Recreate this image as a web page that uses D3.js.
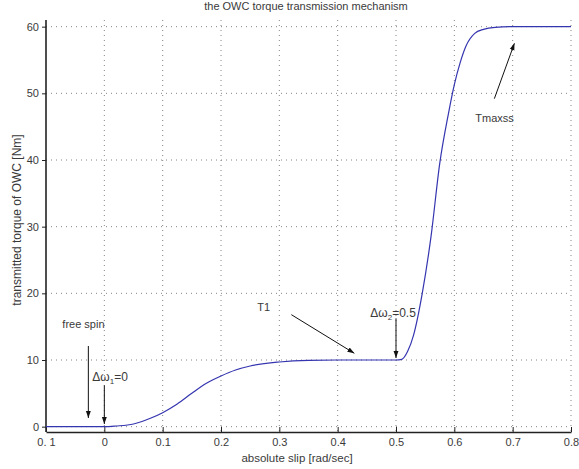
<!DOCTYPE html>
<html>
<head>
<meta charset="utf-8">
<script src="https://cdn.jsdelivr.net/npm/d3@7"></script>
<style>
  body { margin: 0; background: #fff; }
  text { font-family: "Liberation Sans", Arial, sans-serif; fill: #3a3a3a; }
</style>
</head>
<body>
<div id="chart"></div>
<script>
// curve
const slip = [-0.1, 0, 0.02, 0.05, 0.08, 0.1, 0.125, 0.15, 0.175, 0.2, 0.225, 0.25, 0.3, 0.35, 0.4, 0.45, 0.5, 0.51,
              0.52, 0.53, 0.545, 0.56, 0.575, 0.59, 0.6, 0.61, 0.62, 0.635, 0.65, 0.67, 0.7, 0.8];
const torque = [0, 0, 0.1, 0.4, 1.3, 2.1, 3.4, 5.0, 6.5, 7.6, 8.5, 9.1, 9.7, 9.95, 10, 10, 10, 10.1,
                11.3, 13.7, 20, 28.5, 39.5, 47, 51.3, 54.6, 57.1, 59, 59.6, 59.9, 60, 60];

const xTicks = [-0.1, 0, 0.1, 0.2, 0.3, 0.4, 0.5, 0.6, 0.7, 0.8];
const xTickLabels = ["0. 1", "0", "0.1", "0.2", "0.3", "0.4", "0.5", "0.6", "0.7", "0.8"];
const yTicks = [0, 10, 20, 30, 40, 50, 60];

// annotations in data units
const arrows = [
    [-0.0274, 12.1, -0.0274, 1.3],
    [0, 6.2, 0, 0.4],
    [0.3206, 16.8, 0.4286, 11.0],
    [0.5, 16.25, 0.5, 10.3],
    [0.6686, 49.2, 0.703, 57.5]
];

const width = 579;
const height = 469;
const padLeft = 46, padRight = 571, padTop = 20, padBottom = 432;

const x = d3.scaleLinear().domain([-0.1, 0.8]).range([padLeft, padRight]);
const y = d3.scaleLinear().domain([-0.8, 61]).range([padBottom, padTop]);

const svg = d3.select("#chart")
              .append("svg")
              .attr("width", width)
              .attr("height", height);

// dotted grid
svg.append("g")
   .selectAll("line")
   .data(xTicks.slice(1))
   .enter()
   .append("line")
   .attr("x1", (d) => x(d)).attr("x2", (d) => x(d))
   .attr("y1", padTop).attr("y2", padBottom)
   .attr("stroke", "#666").attr("stroke-width", 0.8)
   .attr("stroke-dasharray", "1,4");

svg.append("g")
   .selectAll("line")
   .data(yTicks)
   .enter()
   .append("line")
   .attr("x1", padLeft).attr("x2", padRight)
   .attr("y1", (d) => y(d)).attr("y2", (d) => y(d))
   .attr("stroke", "#666").attr("stroke-width", 0.8)
   .attr("stroke-dasharray", "1,4");

const xAxis = d3.axisBottom(x)
                .tickValues(xTicks)
                .tickFormat((d, i) => xTickLabels[i])
                .tickSizeInner(-5)
                .tickSizeOuter(0)
                .tickPadding(6);
const yAxis = d3.axisLeft(y)
                .tickValues(yTicks)
                .tickSizeInner(4)
                .tickSizeOuter(0)
                .tickPadding(3);

const gx = svg.append("g")
   .attr("transform", "translate(0," + padBottom + ")")
   .call(xAxis);
const gy = svg.append("g")
   .attr("transform", "translate(" + padLeft + ",0)")
   .call(yAxis);

[gx, gy].forEach((g) => {
    g.select(".domain").attr("stroke", "#222").attr("stroke-width", 1.6);
    g.selectAll(".tick line").attr("stroke", "#222");
    g.selectAll(".tick text").attr("font-size", 11).attr("fill", "#444")
     .style("font-family", "'Liberation Sans', Arial, sans-serif");
});
gy.select(".domain").attr("d", "M0," + padTop + "V" + padBottom);

// curve
const line = d3.line()
               .x((d, i) => x(slip[i]))
               .y((d) => y(d))
               .curve(d3.curveMonotoneX);

svg.append("path")
   .datum(torque)
   .attr("d", line)
   .attr("fill", "none")
   .attr("stroke", "#3535b0")
   .attr("stroke-width", 1.2);

// arrows
svg.append("defs")
   .append("marker")
   .attr("id", "head")
   .attr("viewBox", "0 0 10 10")
   .attr("refX", 10).attr("refY", 5)
   .attr("markerWidth", 7).attr("markerHeight", 7)
   .attr("markerUnits", "userSpaceOnUse")
   .attr("orient", "auto")
   .append("path")
   .attr("d", "M0,1.5L10,5L0,8.5Z")
   .attr("fill", "#111");

svg.append("g")
   .selectAll("line")
   .data(arrows)
   .enter()
   .append("line")
   .attr("x1", (d) => x(d[0])).attr("y1", (d) => y(d[1]))
   .attr("x2", (d) => x(d[2])).attr("y2", (d) => y(d[3]))
   .attr("stroke", "#111").attr("stroke-width", 1)
   .attr("marker-end", "url(#head)");

// annotation text
svg.append("text").attr("x", x(-0.072)).attr("y", y(14.8))
   .attr("font-size", 11).text("free spin");
svg.append("text").attr("x", x(0.262)).attr("y", y(17.3))
   .attr("font-size", 11).text("T1");
svg.append("text").attr("x", x(0.636)).attr("y", y(45.7))
   .attr("font-size", 11).text("Tmaxss");

const w1 = svg.append("text").attr("x", x(-0.0206)).attr("y", y(6.8)).attr("font-size", 12);
w1.append("tspan").text("\u0394\u03c9");
w1.append("tspan").attr("font-size", 8).attr("dy", 3).text("1");
w1.append("tspan").attr("dy", -3).text("=0");

const w2 = svg.append("text").attr("x", x(0.456)).attr("y", y(16.4)).attr("font-size", 12);
w2.append("tspan").text("\u0394\u03c9");
w2.append("tspan").attr("font-size", 8).attr("dy", 3).text("2");
w2.append("tspan").attr("dy", -3).text("=0.5");

// titles
svg.append("text")
   .attr("x", 306).attr("y", 10)
   .attr("text-anchor", "middle")
   .attr("font-size", 11)
   .text("the OWC torque transmission mechanism");

svg.append("text")
   .attr("x", 297).attr("y", 462)
   .attr("text-anchor", "middle")
   .attr("font-size", 11.5)
   .text("absolute slip [rad/sec]");

svg.append("text")
   .attr("transform", "translate(21,220) rotate(-90)")
   .attr("text-anchor", "middle")
   .attr("font-size", 12)
   .text("transmitted torque of OWC [Nm]");
</script>
</body>
</html>
